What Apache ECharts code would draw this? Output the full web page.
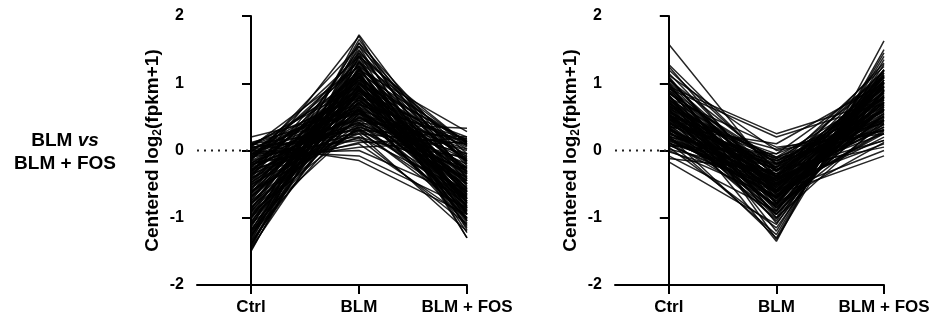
<!DOCTYPE html>
<html>
<head>
<meta charset="utf-8">
<script src="https://cdn.jsdelivr.net/npm/echarts@6.0.0/dist/echarts.min.js"></script>
<style>
  html, body { margin: 0; padding: 0; background: #fff; }
  #main { width: 937px; height: 322px; }
</style>
</head>
<body>
<div id="main"></div>
<script>
// groups on the x axis
var groups = ['Ctrl', 'BLM', 'BLM + FOS'];
var yTicks = [-2, -1, 0, 1, 2];

// left panel: BLM vs BLM + FOS, genes up in BLM
var leftCtrl = [0.20, 0.12, 0.10, 0.08, 0.05, 0.02, 0.00, -0.02, -0.05, -0.08,
  -0.10, -0.12, -0.15, -0.18, -0.20, -0.22, -0.25, -0.28, -0.30, -0.32,
  -0.35, -0.38, -0.40, -0.42, -0.45, -0.48, -0.50, -0.52, -0.55, -0.58,
  -0.60, -0.62, -0.65, -0.68, -0.70, -0.72, -0.75, -0.78, -0.80, -0.82,
  -0.85, -0.88, -0.90, -0.92, -0.95, -0.98, -1.00, -1.02, -1.05, -1.08,
  -1.10, -1.12, -1.15, -1.18, -1.20, -1.22, -1.25, -1.28, -1.30, -1.32,
  -1.35, -1.38, -1.40, -1.42, -1.45, -1.48, -1.50, 0.05, -0.10, 0.10,
  0.00, -0.05, -0.20, -0.10, 0.05, -0.30, -0.40, -0.60, -0.15, -0.35,
  -0.25, -0.45, -0.55, -0.70, -0.85, -1.00, -1.20, -1.35, -1.45, -0.65,
  -0.75, -0.05, 0.08, -0.18, -0.28, -0.92, -1.10, -1.25, -0.38, -0.48,
  -0.05, 0.03, -0.12, -0.22, -0.08, 0.06, -0.30, -0.16, -0.42, -0.02,
  -0.26, -0.36, 0.10, -0.48, -0.58, -0.68, -0.78, -0.88, -0.98, -1.08,
  -1.18, -1.28, -1.40, -0.14, -0.06, 0.00, -0.33, -0.52, -0.62, -0.90];
var leftBlm = [0.60, 0.55, 0.30, 0.95, 0.20, 0.70, 0.45, 1.10, 0.15, 0.85,
  0.40, 1.25, 0.60, 0.05, 0.90, 0.35, 1.00, 0.55, 0.75, 1.15,
  0.25, 0.65, 1.35, 0.50, 0.80, 1.05, 0.30, 0.95, 0.70, 1.20,
  0.45, 0.88, 1.50, 0.60, 1.02, 0.78, 1.28, 0.40, 0.92, 1.12,
  0.68, 1.60, 0.85, 1.08, 0.55, 1.30, 0.98, 1.18, 0.72, 1.42,
  0.90, 1.22, 1.65, 1.05, 1.38, 0.80, 1.48, 1.15, 1.72, 1.25,
  1.55, 1.00, 1.45, 1.32, 1.60, 1.20, 1.40, 1.25, 1.40, -0.15,
  -0.08, 0.00, 0.10, 0.18, 0.25, 0.30, 0.20, 0.28, 1.55, 1.70,
  1.18, 1.05, 0.95, 0.85, 0.62, 0.50, 0.65, 0.75, 0.90, 1.10,
  0.48, 0.82, 0.65, 0.42, 0.12, 0.35, 0.38, 0.55, 1.45, 0.62,
  0.75, 0.58, 0.92, 0.68, 0.48, 1.02, 1.08, 0.38, 0.82, 0.33,
  0.52, 0.98, 0.78, 0.72, 0.88, 1.15, 0.95, 1.22, 0.78, 1.12,
  0.92, 1.32, 1.10, 1.32, 0.62, 0.88, 0.42, 0.58, 0.32, 0.58];
var leftFos = [-0.80, -0.67, -0.40, -1.03, -0.25, -0.72, -0.45, -1.08, -0.10, -0.77,
  -0.30, -1.13, -0.45, 0.13, -0.70, -0.13, -0.75, -0.27, -0.45, -0.83,
  0.10, -0.27, -0.95, -0.08, -0.35, -0.57, 0.20, -0.43, -0.15, -0.62,
  0.15, -0.26, -0.85, 0.08, -0.32, -0.06, -0.53, 0.33, -0.12, -0.30,
  0.17, -0.72, 0.05, -0.16, 0.02, -0.32, 0.02, -0.16, 0.12, -0.34,
  0.08, -0.10, -0.50, 0.13, -0.18, 0.20, -0.23, 0.13, -0.42, 0.07,
  -0.20, 0.15, -0.05, 0.10, -0.15, 0.28, 0.10, -1.30, -1.30, -0.95,
  -0.85, -0.70, -1.00, -1.10, -1.20, -0.90, -0.60, -0.80, -1.05, -0.95,
  -1.22, -1.15, -1.05, -0.95, -0.55, -0.40, -0.60, -0.70, -0.85, -1.00,
  0.00, -0.90, -1.10, -0.50, 0.18, -0.30, -0.75, -0.95, -1.18, -0.65,
  -0.55, -0.35, -0.62, -0.48, -0.20, -0.78, -0.66, -0.05, -0.58, -0.60,
  -0.82, -0.40, -0.92, -0.72, -0.50, -0.88, -0.65, -0.78, -0.45, -0.62,
  -0.38, -0.58, -0.35, -0.85, -1.02, -0.25, -0.88, -1.00, -0.68, -0.75];

// right panel: genes down in BLM
var rightCtrl = [1.58, 1.28, 1.25, 1.12, 1.10, 1.05, 1.00, 0.95, 0.92, 0.90,
  0.88, 0.85, 0.82, 0.80, 0.78, 0.75, 0.72, 0.70, 0.68, 0.65,
  0.62, 0.60, 0.58, 0.55, 0.52, 0.50, 0.48, 0.45, 0.42, 0.40,
  0.38, 0.35, 0.32, 0.30, 0.28, 0.25, 0.22, 0.20, 0.18, 0.15,
  0.12, 0.10, 0.08, 0.05, 0.02, 0.00, -0.02, -0.08, -0.12, -0.17,
  1.15, 1.08, 1.02, 0.98, 0.87, 0.77, 0.67, 0.57, 0.47, 0.37,
  0.27, 0.17, 0.07, 0.63, 0.53, 0.43, 0.33, 0.23, 0.13, 0.73,
  0.83, 0.93, 0.46, 0.56, 0.36, 0.26, 0.16, 0.66, 0.76, 0.86,
  0.61, 0.41, 0.31, 0.51, 0.71, 0.21, 0.11, 1.20, 0.96, 0.54,
  0.58, 0.44, 0.70, 0.34, 0.82, 0.24, 0.64, 0.50, 0.14, 0.90,
  0.40, 0.76, 0.30, 0.60, 0.20, 1.00, 0.48, 0.68, 0.38, 0.86,
  0.52, 0.18, 0.74, 0.28, 1.06, 0.42, 0.62, 0.08, 0.96, 0.34];
var rightBlm = [-0.40, -0.30, -0.60, 0.00, -0.80, -0.20, -1.00, 0.25, 0.20, -0.45,
  -0.70, -0.15, -1.20, -0.55, 0.05, -0.35, -0.90, -0.25, -0.65, -0.10,
  -1.35, -0.50, -0.30, -0.75, -0.05, -0.45, -1.05, -0.20, -0.60, -0.38,
  -0.85, 0.10, -0.55, -0.28, -0.95, -0.42, -1.30, -0.15, -0.68, -0.48,
  -0.80, -0.25, -0.58, -1.15, -0.35, -0.70, -0.50, -0.90, -0.30, -1.10,
  -0.50, -0.65, -0.40, -0.85, -0.62, -0.78, -0.40, -1.00, -0.58, -0.15,
  -0.62, -0.45, -0.05, -0.72, -0.25, -0.82, -0.48, -0.70, -1.25, -0.52,
  -1.08, -0.32, 0.02, -0.12, -0.92, -0.35, -0.60, -0.88, -0.18, -0.45,
  -0.66, -0.52, -0.75, -0.38, -0.60, -0.20, -0.42, -0.28, -1.32, -0.95,
  -0.55, -0.40, -0.30, -0.62, -0.70, -0.22, -0.48, -0.78, -0.52, -0.38,
  -0.12, -0.58, -0.45, -0.85, -0.68, -0.55, -0.30, -0.42, -0.72, -0.20,
  -0.62, -0.38, -0.95, -0.82, -0.60, -0.25, -0.10, -0.62, -0.78, -1.02];
var rightFos = [0.70, 0.55, 0.90, 0.30, 1.10, 0.45, 1.20, 0.75, 0.70, 0.35,
  1.05, 0.60, 1.40, 0.80, 0.25, 0.95, 1.15, 0.50, 0.30, 0.85,
  1.63, 1.00, 0.15, 0.65, 1.10, 0.40, 1.20, 0.72, 0.20, 0.92,
  0.55, 1.00, 1.18, 0.05, 0.80, 0.60, 1.50, 0.30, 1.05, 0.45,
  0.88, 1.25, 0.70, 1.10, 0.25, 0.95, 0.50, 1.00, 0.60, 1.28,
  0.10, -0.08, 0.15, 0.40, 0.00, 0.12, 1.30, 0.45, 0.85, 0.50,
  1.15, 0.78, 0.60, 0.82, 0.95, 1.05, 0.35, 0.62, 1.45, 0.55,
  0.90, 1.02, 0.40, 0.78, 1.12, 0.70, 0.95, 0.65, 1.08, 1.20,
  0.28, 0.52, 1.00, 0.88, 0.75, 0.42, 0.32, 0.58, 1.35, 0.68,
  0.62, 0.80, 0.92, 0.48, 0.72, 0.58, 1.12, 0.98, 0.86, 0.62,
  0.30, 0.44, 1.08, 0.90, 0.76, 0.82, 1.18, 0.38, 0.68, 0.80,
  0.25, 1.00, 1.02, 0.52, 0.96, 0.66, 0.46, 0.72, 1.10, 0.88];

var font = 'Liberation Sans, Arial, Helvetica, sans-serif';

function makeLines(ctrl, blm, fos, idx) {
  var out = [];
  for (var i = 0; i < ctrl.length; i++) {
    out.push({
      type: 'line',
      xAxisIndex: idx,
      yAxisIndex: idx,
      data: [[0, ctrl[i]], [1, blm[i]], [2, fos[i]]],
      symbol: 'none',
      silent: true,
      lineStyle: { color: '#000', width: 1.5, opacity: 0.85 }
    });
  }
  // dotted zero line from the axis to Ctrl
  out.push({
    type: 'line',
    xAxisIndex: idx,
    yAxisIndex: idx,
    data: [[-0.5, 0], [0, 0]],
    symbol: 'none',
    silent: true,
    z: 1,
    lineStyle: { color: '#222', width: 2, type: [2, 5] }
  });
  return out;
}

function xAx(idx) {
  return {
    type: 'value',
    gridIndex: idx,
    min: -0.5,
    max: 2,
    splitLine: { show: false },
    axisLine: { onZero: false, lineStyle: { color: '#000', width: 2 } },
    axisTick: { customValues: [0, 1, 2], length: 9, lineStyle: { color: '#000', width: 2 } },
    axisLabel: {
      customValues: [0, 1, 2],
      formatter: function (v) { return groups[Math.round(v)]; },
      color: '#000', fontWeight: 'bold', fontSize: 17, fontFamily: font, margin: 14
    }
  };
}

function yAx(idx) {
  return {
    type: 'value',
    gridIndex: idx,
    min: yTicks[0],
    max: yTicks[yTicks.length - 1],
    interval: 1,
    splitLine: { show: false },
    axisLine: { show: true, lineStyle: { color: '#000', width: 2 } },
    axisTick: { show: true, length: 9, lineStyle: { color: '#000', width: 2 } },
    axisLabel: { color: '#000', fontWeight: 'bold', fontSize: 16, fontFamily: font, margin: 13 },
    name: 'Centered log{s|2}(fpkm+1)',
    nameLocation: 'middle',
    nameGap: 33,
    nameTextStyle: {
      color: '#000', fontWeight: 'bold', fontSize: 19, fontFamily: font,
      rich: {
        s: { fontSize: 12, fontWeight: 'bold', fontFamily: font, color: '#000', padding: [10, 0, 0, 0] }
      }
    }
  };
}

var chart = echarts.init(document.getElementById('main'));
chart.setOption({
  animation: false,
  backgroundColor: '#fff',
  grid: [
    { left: 197, right: 470, top: 16, bottom: 37 },
    { left: 615, right: 53, top: 16, bottom: 37 }
  ],
  xAxis: [xAx(0), xAx(1)],
  yAxis: [yAx(0), yAx(1)],
  graphic: [{
    type: 'text',
    x: 65,
    y: 152,
    style: {
      text: '{b|BLM }{i|vs}\n{b|BLM + FOS}',
      align: 'center',
      verticalAlign: 'middle',
      rich: {
        b: { fontSize: 19, fontWeight: 'bold', fontFamily: font, fill: '#000', lineHeight: 23 },
        i: { fontSize: 19, fontWeight: 'bold', fontStyle: 'italic', fontFamily: font, fill: '#000', lineHeight: 23 }
      }
    }
  }],
  series: makeLines(leftCtrl, leftBlm, leftFos, 0).concat(makeLines(rightCtrl, rightBlm, rightFos, 1))
});
</script>
</body>
</html>
